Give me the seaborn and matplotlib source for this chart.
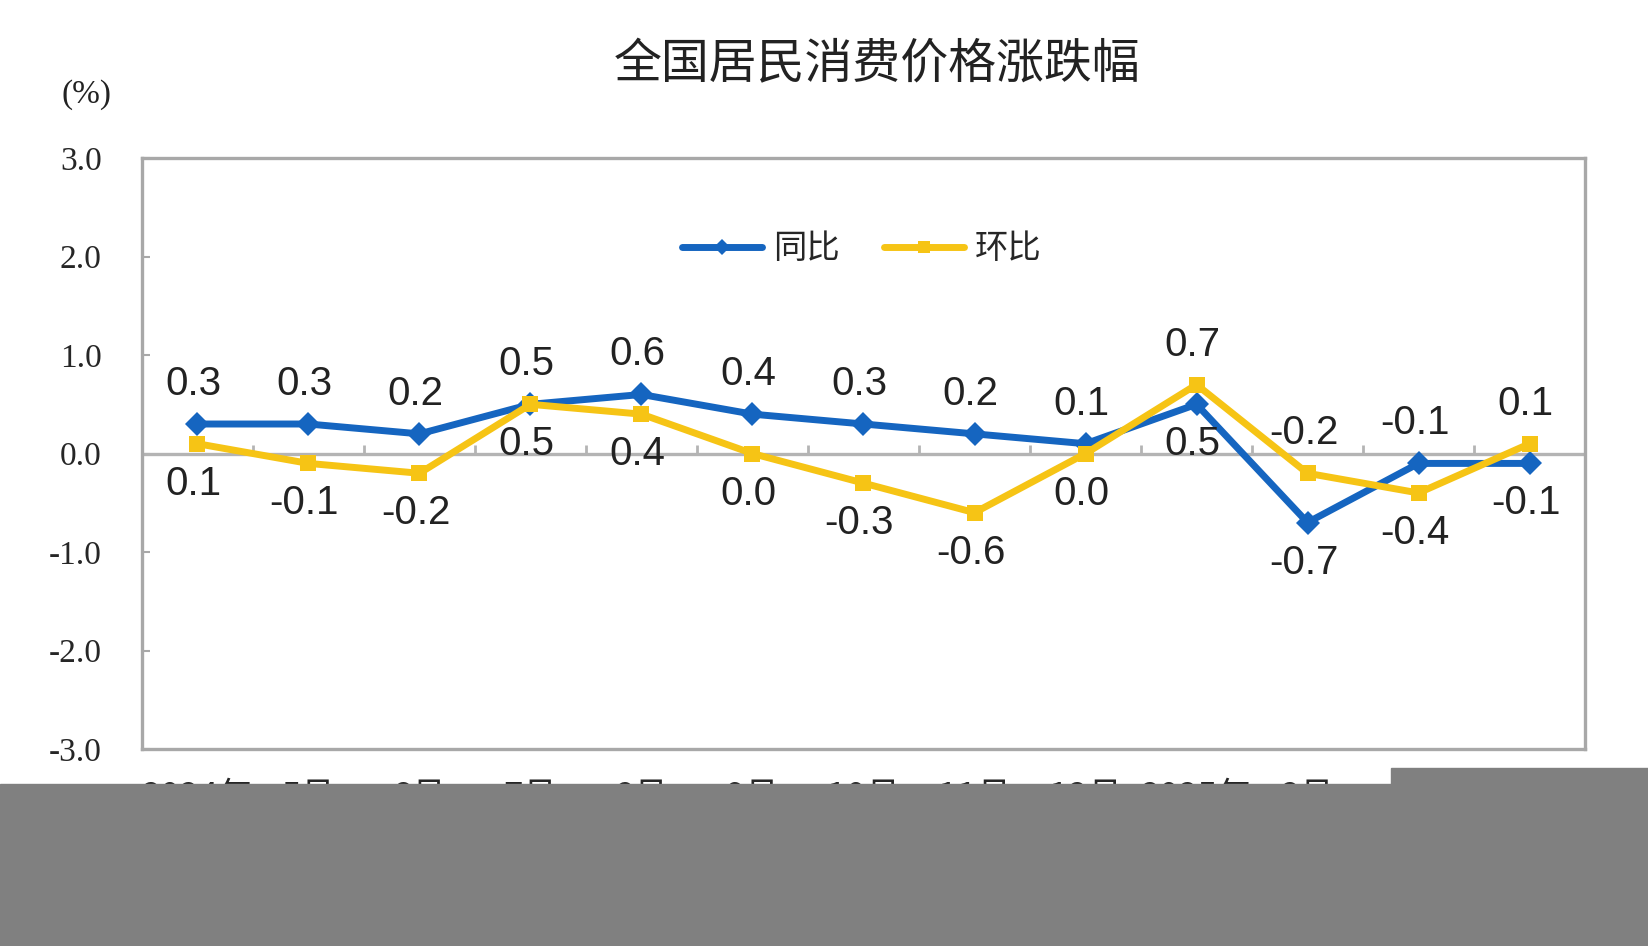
import numpy as np
import pandas as pd
import matplotlib
matplotlib.use("Agg")
import matplotlib.pyplot as plt
import seaborn as sns

# ---- data ----
months = ["2024年\n4月", "5月", "6月", "7月", "8月", "9月", "10月", "11月", "12月",
          "2025年\n1月", "2月", "3月", "4月"]
yoy = [0.3, 0.3, 0.2, 0.5, 0.6, 0.4, 0.3, 0.2, 0.1, 0.5, -0.7, -0.1, -0.1]   # 同比
mom = [0.1, -0.1, -0.2, 0.5, 0.4, 0.0, -0.3, -0.6, 0.0, 0.7, -0.2, -0.4, 0.1]  # 环比
series_names = ["同比", "环比"]
y_ticks = [-3.0, -2.0, -1.0, 0.0, 1.0, 2.0, 3.0]
title = "全国居民消费价格涨跌幅"
unit = "(%)"

BLUE = "#1565C0"
YELLOW = "#F6C415"
GRID = "#A8A8A8"

df = pd.DataFrame({
    "month": months * 2,
    "series": [series_names[0]] * len(months) + [series_names[1]] * len(months),
    "value": yoy + mom,
})

sns.set_theme(style="white")
plt.rcParams["font.family"] = ["Noto Sans CJK SC", "DejaVu Sans"]

fig = plt.figure(figsize=(16.49, 9.46), dpi=100)
ax = fig.add_axes([0.0861, 0.2082, 0.8751, 0.6247])

ax.axhline(0, color="#B4B4B4", lw=2.4, zorder=1)
bounds = np.arange(len(months) - 1) + 0.5
ax.vlines(bounds, 0, 0.09, color="#B4B4B4", lw=2.0, zorder=1)

sns.lineplot(data=df, x="month", y="value", hue="series", style="series",
             palette={series_names[0]: BLUE, series_names[1]: YELLOW},
             markers={series_names[0]: "D", series_names[1]: "s"},
             dashes=False, lw=5.0, markersize=12, markeredgewidth=0,
             sort=False, ax=ax, zorder=3)

ax.set_xlim(-0.5, len(months) - 0.5)
ax.set_ylim(-3, 3)
ax.set_yticks(y_ticks)
ax.set_yticklabels([f"{v:.1f}" for v in y_ticks], fontfamily="Liberation Serif", fontsize=24)
ax.set_xticks(range(len(months)))
ax.set_xticklabels(months, fontsize=25, va="top", linespacing=1.0)
ax.tick_params(axis="y", direction="in", length=6, width=1.5, color=GRID, pad=29, left=True)
ax.tick_params(axis="x", length=0, pad=22)
ax.set_xlabel("")
ax.set_ylabel("")
for s in ax.spines.values():
    s.set_color(GRID)
    s.set_linewidth(2.4)

# data labels: the higher series above, the lower below
for i in range(len(months)):
    b, y = yoy[i], mom[i]
    blue_up = b >= y
    for val, up in ((b, blue_up), (y, not blue_up)):
        ax.annotate(f"{val:.1f}", (i, val), xytext=(-4, 40 if up else -40),
                    textcoords="offset pixels", ha="center", va="center",
                    fontsize=29, fontfamily="Liberation Sans", color="#222222", zorder=4)

leg = ax.legend(ncol=2, frameon=False, loc="center",
                bbox_to_anchor=(0.5227, 0.7368), bbox_transform=fig.transFigure,
                fontsize=24, handlelength=2.4, handletextpad=0.35, columnspacing=1.3)
for h in leg.legend_handles:
    h.set_markersize(8)
    h.set_linewidth(5.0)

fig.text(0.532, 1 - 65 / 946, title, ha="center", va="center", fontsize=34.5, color="#222222")
fig.text(87 / 1649, 1 - 95 / 946, unit, ha="center", va="center",
         fontfamily="Liberation Serif", fontsize=24, color="#222222")

# grey cover strips at the bottom
fig.patches.append(plt.Rectangle((0, 0), 1, (946 - 784) / 946, transform=fig.transFigure,
                                 color="#808080", zorder=10))
fig.patches.append(plt.Rectangle((1391 / 1649, 0), 1, (946 - 768) / 946, transform=fig.transFigure,
                                 color="#808080", zorder=10))

fig.savefig("out.png", dpi=100, facecolor="white")
